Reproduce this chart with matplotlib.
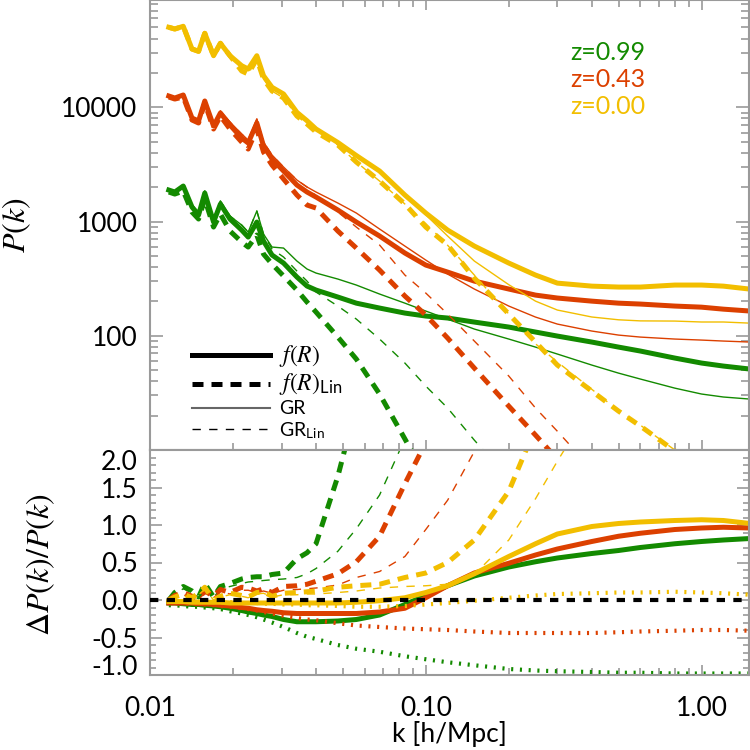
import matplotlib
matplotlib.use("Agg")
import matplotlib.pyplot as plt
from matplotlib.lines import Line2D
from matplotlib.ticker import FixedLocator, LogLocator, MultipleLocator, FuncFormatter, NullFormatter

plt.rcParams['font.family'] = ['Lato', 'DejaVu Sans']
plt.rcParams['mathtext.fontset'] = 'custom'
plt.rcParams['mathtext.rm'] = 'STIXGeneral'
plt.rcParams['mathtext.it'] = 'STIXGeneral:italic'
plt.rcParams['mathtext.bf'] = 'STIXGeneral:bold'
plt.rcParams['mathtext.sf'] = 'Lato'

# k bins [h/Mpc]
k = [0.0117, 0.0123, 0.0132, 0.0142, 0.0150, 0.0158, 0.0170, 0.0180, 0.0195, 0.0215,
     0.0227, 0.0244, 0.0258, 0.0277, 0.0305, 0.0341, 0.0371, 0.040, 0.048, 0.056,
     0.068, 0.084, 0.10, 0.12, 0.15, 0.20, 0.25, 0.30, 0.40, 0.50,
     0.60, 0.80, 1.0, 1.2, 1.5]

redshifts = ["z=0.99", "z=0.43", "z=0.00"]

# P(k), z=0.99
pk_fr_z099 = [1887, 1813, 2046, 1340, 1140, 1777, 990, 1423, 1052, 842, 731.5, 990, 675, 509, 433,
              326.8, 272.4, 251.3, 218.3, 193, 174.8, 158, 148.8, 143, 131.8, 119.2, 107.8, 99.4,
              88.1, 79.6, 73.5, 63.8, 57.7, 54.3, 51.1]
pk_gr_z099 = [1926, 1850, 2088, 1395, 1211, 1850, 1052, 1512, 1117, 932, 809, 1236, 777, 598, 586,
              451, 384, 354, 313.7, 278, 231.9, 193, 164.6, 140, 114.5, 93.6, 79.6, 69.2,
              55.4, 47.1, 41.8, 34.8, 30.9, 29.1, 27.9]
pk_frlin_z099 = [1813, 1741, 1850, 1211, 1052, 1574, 895, 1163, 826, 661.6, 598, 762, 519, 424.6,
                 333.3, 251.3, 197.3, 161.3, 97.4, 62.5, 30.9, 12.5, 5.8, 2.5]
pk_grlin_z099 = [1926, 1850, 2088, 1395, 1211, 1850, 1052, 1512, 1117, 932, 809, 1236, 777, 574.5,
                 489, 368.6, 301, 241.3, 182, 140, 93.6, 57.7, 36.3, 23.3, 12.2, 5.6]

# P(k), z=0.43
pk_fr_z043 = [12560, 12060, 12820, 8060, 7590, 11360, 6860, 8920, 7000, 5385, 4870, 7290, 4585,
              3527, 2769, 2088, 1813, 1639, 1261, 990, 747, 530, 416, 361, 301, 256.5, 227, 214,
              201, 193, 189.5, 182, 178, 171, 164.6]
pk_gr_z043 = [12560, 12060, 12820, 8225, 7745, 11590, 7140, 9285, 7435, 5838, 5172, 7900, 4968,
              3823, 3001, 2309, 2006, 1813, 1452, 1187, 860, 610, 460, 347, 256.5, 182, 145.8,
              126.6, 110, 101.4, 97.4, 93.6, 91.7, 89.9, 88.1]
pk_frlin_z043 = [12310, 11820, 12310, 7745, 7290, 10910, 6457, 8390, 6457, 4968, 4313, 6457, 4061,
                 3125, 2356, 1707, 1395, 1313, 826, 586, 376, 222.6, 151.8, 95.5, 52.1, 24.2,
                 13.5, 8.3, 4.1, 2.5]
pk_grlin_z043 = [12560, 12060, 12820, 8225, 7745, 11590, 7140, 9285, 7435, 5838, 5172, 7900, 4968,
                 3823, 3001, 2309, 2006, 1673, 1211, 895, 623, 340, 236.6, 155, 89.9, 44.4, 23.3,
                 14.6, 6.8, 4.1]

# P(k), z=0.00
pk_fr_z000 = [50190, 48500, 51220, 32400, 30930, 44460, 28300, 36350, 28300, 23140, 21650, 28300,
              18910, 14970, 13080, 9040, 7630, 6457, 4918, 3784, 2769, 1706, 1187, 842, 610, 433,
              340, 289, 272, 267, 267, 278, 278, 272, 256]
pk_gr_z000 = [50190, 48500, 51220, 32400, 30930, 44460, 28300, 36350, 28300, 23140, 21650, 28300,
              18910, 14970, 13080, 9040, 7630, 6457, 4918, 3784, 2769, 1706, 1145, 747, 451, 280,
              201, 168, 146, 138, 135, 134.5, 132, 132, 129]
pk_frlin_z000 = [50190, 48500, 51220, 32400, 30930, 44460, 28300, 36350, 28300, 20790, 19570,
                 26490, 17700, 13890, 12060, 8390, 7140, 6077, 4676, 3319, 2262, 1423, 895, 623,
                 320, 155, 88, 55.4, 32.8, 21.9, 16.2, 9.8, 6.5, 4.7, 3.2]
pk_grlin_z000 = [50190, 48500, 51220, 32400, 30930, 44460, 28300, 36350, 28300, 20790, 19570,
                 26490, 17700, 13890, 12060, 8390, 7140, 6077, 4676, 3319, 2262, 1423, 960, 620,
                 340, 155, 85, 59, 34, 22, 16.5, 10, 6.6, 4.8, 3.3]

# Delta P / P, lower panel
dlin_fr_z099 = [0.0, 0.10, 0.18, 0.12, 0.04, 0.22, 0.04, 0.18, 0.22, 0.28, 0.30, 0.31, 0.31, 0.34,
                0.36, 0.55, 0.63, 0.75, 1.65, 2.6]
dlin_gr_z099 = [0.0, 0.08, 0.15, 0.10, 0.03, 0.18, 0.03, 0.15, 0.18, 0.22, 0.24, 0.25, 0.26, 0.27,
                0.28, 0.30, 0.35, 0.42, 0.65, 0.95, 1.40, 2.15]
dlin_fr_z043 = [0.0, 0.06, 0.10, 0.05, 0.02, 0.12, 0.05, 0.14, 0.10, 0.17, 0.16, 0.12, 0.15, 0.10,
                0.18, 0.19, 0.21, 0.25, 0.35, 0.51, 0.85, 1.55, 2.1]
dlin_gr_z043 = [0.0, 0.04, 0.07, 0.03, 0.01, 0.09, 0.03, 0.11, 0.08, 0.13, 0.13, 0.10, 0.12, 0.09,
                0.13, 0.14, 0.15, 0.16, 0.20, 0.30, 0.38, 0.58, 0.94, 1.33, 1.98, 2.6]
dlin_fr_z000 = [0.0, 0.04, 0.08, 0.03, 0.09, 0.17, 0.0, 0.05, 0.09, 0.06, 0.04, 0.10, 0.11, 0.05,
                0.09, 0.10, 0.11, 0.12, 0.17, 0.19, 0.21, 0.30, 0.36, 0.50, 0.80, 1.45, 2.3]
dlin_gr_z000 = [0.0, 0.03, 0.06, 0.02, 0.07, 0.14, 0.0, 0.04, 0.07, 0.05, 0.03, 0.08, 0.09, 0.04,
                0.07, 0.07, 0.08, 0.08, 0.10, 0.12, 0.16, 0.18, 0.19, 0.21, 0.34, 0.80, 1.35, 1.85,
                2.6]

dnl_z099 = [-0.04, -0.04, -0.05, -0.06, -0.06, -0.07, -0.08, -0.09, -0.11, -0.14, -0.16, -0.18,
            -0.20, -0.22, -0.26, -0.29, -0.29, -0.29, -0.28, -0.26, -0.20, -0.06, 0.06, 0.19,
            0.32, 0.44, 0.51, 0.56, 0.62, 0.66, 0.70, 0.75, 0.78, 0.80, 0.82]
dnl_z043 = [-0.04, -0.04, -0.04, -0.04, -0.05, -0.05, -0.06, -0.07, -0.08, -0.10, -0.11, -0.13,
            -0.14, -0.15, -0.17, -0.18, -0.18, -0.18, -0.18, -0.18, -0.16, -0.11, 0.03, 0.19,
            0.36, 0.49, 0.60, 0.68, 0.78, 0.85, 0.89, 0.94, 0.96, 0.97, 0.96]
dnl_z000 = [-0.02, -0.02, -0.02, -0.03, -0.03, -0.03, -0.03, -0.03, -0.04, -0.04, -0.04, -0.04,
            -0.04, -0.04, -0.04, -0.04, -0.04, -0.04, -0.04, -0.03, -0.01, 0.03, 0.10, 0.19,
            0.35, 0.58, 0.75, 0.88, 0.98, 1.02, 1.04, 1.06, 1.07, 1.06, 1.02]

dlt_z099 = [-0.07, -0.07, -0.08, -0.09, -0.09, -0.10, -0.11, -0.12, -0.15, -0.18, -0.20, -0.23,
            -0.26, -0.30, -0.36, -0.44, -0.49, -0.52, -0.60, -0.65, -0.69, -0.75, -0.79, -0.83,
            -0.87, -0.92, -0.94, -0.95, -0.96, -0.97, -0.97, -0.98, -0.98, -0.98, -0.98]
dlt_z043 = [-0.04, -0.04, -0.05, -0.05, -0.06, -0.06, -0.07, -0.08, -0.09, -0.11, -0.12, -0.14,
            -0.16, -0.18, -0.21, -0.24, -0.26, -0.27, -0.31, -0.34, -0.36, -0.38, -0.39, -0.40,
            -0.42, -0.44, -0.44, -0.44, -0.44, -0.43, -0.42, -0.41, -0.40, -0.40, -0.41]
dlt_z000 = [-0.01, -0.01, -0.02, -0.02, -0.02, -0.02, -0.03, -0.03, -0.03, -0.04, -0.04, -0.04,
            -0.05, -0.05, -0.06, -0.06, -0.07, -0.07, -0.08, -0.09, -0.09, -0.08, -0.06, -0.04,
            -0.01, 0.03, 0.06, 0.08, 0.09, 0.10, 0.10, 0.11, 0.10, 0.09, 0.07]

colors = ['#138a00', '#dc4000', '#f2be00']

top_sets = [(pk_fr_z099, pk_gr_z099, pk_frlin_z099, pk_grlin_z099),
            (pk_fr_z043, pk_gr_z043, pk_frlin_z043, pk_grlin_z043),
            (pk_fr_z000, pk_gr_z000, pk_frlin_z000, pk_grlin_z000)]
bot_sets = [(dlin_fr_z099, dlin_gr_z099, dnl_z099, dlt_z099),
            (dlin_fr_z043, dlin_gr_z043, dnl_z043, dlt_z043),
            (dlin_fr_z000, dlin_gr_z000, dnl_z000, dlt_z000)]

thick = 3.6
thin = 1.0
dash_thick = (0, (2.2, 1.6))
dash_thin = (0, (6, 6))
dots = (0, (0.5, 1.6))
axis_grey = '#9a9a9a'

fig = plt.figure(figsize=(7.5, 7.5), dpi=100)
ax1 = fig.add_axes([0.2, 0.4, 0.798, 0.6])
ax2 = fig.add_axes([0.2, 0.1, 0.798, 0.3])

# upper panel
for c, (fr, gr, frlin, grlin) in zip(colors, top_sets):
    ax1.plot(k[:len(grlin)], grlin, color=c, lw=thin, ls=dash_thin)
    ax1.plot(k[:len(gr)], gr, color=c, lw=thin)
    ax1.plot(k[:len(frlin)], frlin, color=c, lw=thick, ls=dash_thick)
    ax1.plot(k[:len(fr)], fr, color=c, lw=thick)

for i, (txt, c) in enumerate(zip(redshifts, colors)):
    ax1.text(0.702, 0.884 - 0.06 * i, txt, color=c, fontsize=18,
             transform=ax1.transAxes, ha='left', va='center')

handles = [Line2D([], [], color='k', lw=thick),
           Line2D([], [], color='k', lw=thick, ls=dash_thick),
           Line2D([], [], color='#666666', lw=1.5),
           Line2D([], [], color='k', lw=thin, ls=dash_thin)]
labels = [r'$f(R)$', r'$f(R)_{\mathsf{Lin}}$', 'GR', r'GR$_{\mathsf{Lin}}$']
leg = ax1.legend(handles, labels, loc='lower left', bbox_to_anchor=(0.07, 0.02),
                 frameon=False, fontsize=14, handlelength=4.0, handletextpad=0.5,
                 labelspacing=0.15, borderpad=0, borderaxespad=0)
for t in leg.get_texts()[:2]:
    t.set_fontsize(17)

ax1.set_xscale('log')
ax1.set_yscale('log')
ax1.set_xlim(0.01, 1.48)
ax1.set_ylim(10, 8.7e4)
ax1.yaxis.set_major_locator(FixedLocator([10, 100, 1000, 10000]))
ax1.yaxis.set_minor_locator(LogLocator(base=10, subs=range(2, 10)))
ax1.yaxis.set_major_formatter(FuncFormatter(lambda v, p: '%d' % v if v >= 100 else ''))
ax1.yaxis.set_minor_formatter(NullFormatter())
ax1.set_ylabel(r'$P(k)$', fontsize=23, va='center')
ax1.yaxis.set_label_coords(-0.222, 0.5)

# lower panel
for c, (dfr, dgr, dnl, dlt) in zip(colors, bot_sets):
    ax2.plot(k[:len(dgr)], dgr, color=c, lw=thin, ls=dash_thin)
    ax2.plot(k[:len(dfr)], dfr, color=c, lw=thick, ls=dash_thick)
    ax2.plot(k[:len(dlt)], dlt, color=c, lw=3.0, ls=dots)
    ax2.plot(k[:len(dnl)], dnl, color=c, lw=thick)
ax2.axhline(0.0, color='k', lw=3.0, ls=(0, (2.0, 2.0)), zorder=5)

ax2.set_xscale('log')
ax2.set_xlim(0.01, 1.48)
ax2.set_ylim(-1.0, 2.0)
ax2.yaxis.set_major_locator(MultipleLocator(0.5))
ax2.yaxis.set_minor_locator(MultipleLocator(0.1))
ax2.yaxis.set_major_formatter(FuncFormatter(lambda v, p: '%.1f' % v if abs(v) > 1e-9 else '0.0'))
ax2.xaxis.set_major_formatter(FuncFormatter(lambda v, p: '%.2f' % v))
ax2.xaxis.set_minor_formatter(NullFormatter())
ax2.set_ylabel(r'$\Delta P(k)/P(k)$', fontsize=23, va='center')
ax2.yaxis.set_label_coords(-0.182, 0.49)
ax2.set_xlabel('k [h/Mpc]', fontsize=19, va='top')
ax2.xaxis.set_label_coords(0.5, -0.205)

# axes style
for ax in (ax1, ax2):
    for sp in ax.spines.values():
        sp.set_color(axis_grey)
        sp.set_linewidth(1.5)
    ax.tick_params(which='both', direction='in', color=axis_grey, width=1.2,
                   labelsize=19, right=True)
    ax.tick_params(axis='x', which='major', length=7, pad=15)
    ax.tick_params(axis='x', which='minor', length=5)
    ax.tick_params(axis='y', pad=9)

ax1.tick_params(which='both', top=True, labelbottom=False)
ax1.tick_params(axis='y', which='major', length=9.5)
ax1.tick_params(axis='y', which='minor', length=5.5)
ax2.tick_params(which='both', top=False)
ax2.tick_params(axis='y', which='major', length=8.5)
ax2.tick_params(axis='y', which='minor', length=4)

fig.canvas.draw()
for t in ax2.yaxis.get_major_ticks():
    v = t.get_loc()
    if abs(v - 2.0) < 1e-6:
        t.label1.set_verticalalignment('top')
    if abs(v + 1.0) < 1e-6:
        t.label1.set_verticalalignment('baseline')

fig.savefig('out.png', dpi=100)
